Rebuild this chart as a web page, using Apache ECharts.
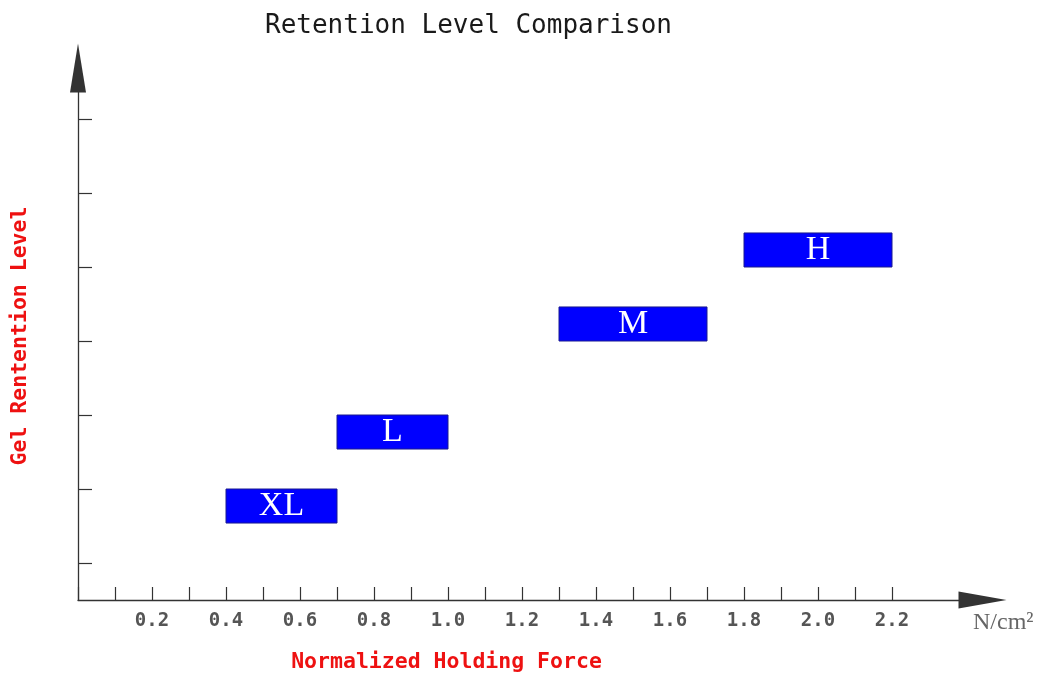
<!DOCTYPE html>
<html>
<head>
<meta charset="utf-8">
<script src="https://cdn.jsdelivr.net/npm/echarts@6/dist/echarts.min.js"></script>
<style>
  html, body { margin: 0; padding: 0; background: #ffffff; }
  #chart { width: 1038px; height: 680px; }
</style>
</head>
<body>
<div id="chart"></div>
<script>
// ---- data ----
const levels = ['XL', 'L', 'M', 'H'];
const forceMin = [0.4, 0.7, 1.3, 1.8];      // N/cm^2, left edge of each band
const forceMax = [0.7, 1.0, 1.7, 2.2];      // N/cm^2, right edge of each band
const levelLow = [1.04, 2.04, 3.5, 4.5];    // retention-level units (bottom of bar)
const levelHigh = [1.5, 2.5, 3.96, 4.96];   // retention-level units (top of bar)
const xTickLabels = ['0.2', '0.4', '0.6', '0.8', '1.0', '1.2', '1.4', '1.6', '1.8', '2.0', '2.2'];
const yTickSlots = ['1', '2', '3', '4', '5', '6', '7'];

const titleText = 'Retention Level Comparison';
const xName = 'Normalized Holding Force';
const yName = 'Gel Rentention Level';
const unitText = 'N/cm\u00B2';

const chart = echarts.init(document.getElementById('chart'));

const barData = levels.map((name, i) => [forceMin[i], forceMax[i], levelLow[i], levelHigh[i]]);

const axisColor = '#333';
const mono = '"DejaVu Sans Mono", "Liberation Mono", monospace';

chart.setOption({
  backgroundColor: '#ffffff',
  animation: false,
  title: [
    {
      text: titleText,
      left: 260, top: 8,
      textStyle: { fontFamily: mono, fontSize: 26, fontWeight: 'normal', color: '#1a1a1a' }
    },
    {
      text: unitText,
      left: 968, top: 606,
      textStyle: { fontFamily: '"Liberation Serif", serif', fontSize: 24, fontWeight: 'normal', color: '#666' }
    }
  ],
  grid: [
    { left: 78, right: 72, top: 82, bottom: 80, containLabel: false, outerBoundsMode: 'none' },
    { left: 78, right: 146, top: 82, bottom: 80, containLabel: false, outerBoundsMode: 'none' }
  ],
  xAxis: [
    {
      gridIndex: 0, type: 'value', min: 0, max: 2.4,
      axisLine: { show: true, symbol: ['none', 'triangle'], symbolSize: [17, 48], symbolOffset: [0, 16.5],
                  lineStyle: { color: axisColor, width: 1.3 } },
      axisTick: { show: false }, axisLabel: { show: false }, splitLine: { show: false }
    },
    {
      gridIndex: 1, type: 'value', min: 0, max: 2.2, interval: 0.1,
      axisLine: { show: false },
      axisTick: { show: true, inside: true, length: 13, lineStyle: { color: '#333', width: 1.2 } },
      axisLabel: {
        show: true, margin: 12, color: '#555', fontFamily: mono, fontSize: 19, fontWeight: 'bold',
        formatter: v => { const s = Number(v).toFixed(1); return xTickLabels.includes(s) ? s : ''; }
      },
      splitLine: { show: false },
      name: xName, nameLocation: 'middle', nameGap: 51,
      nameTextStyle: { color: '#ee1111', fontFamily: mono, fontSize: 21.5, fontWeight: 'bold', padding: [0, 77, 0, 0] }
    }
  ],
  yAxis: [
    {
      gridIndex: 0, type: 'value', min: 0, max: 7,
      axisLine: { show: true, symbol: ['none', 'triangle'], symbolSize: [16, 49], symbolOffset: [0, 14],
                  lineStyle: { color: axisColor, width: 1.3 } },
      axisTick: { show: false }, axisLabel: { show: false }, splitLine: { show: false }
    },
    {
      gridIndex: 1, type: 'category', data: yTickSlots, boundaryGap: true,
      axisLine: { show: false },
      axisTick: { show: true, inside: true, alignWithLabel: true, length: 14, lineStyle: { color: '#333', width: 1.2 } },
      axisLabel: { show: false },
      splitLine: { show: false },
      name: yName, nameLocation: 'middle', nameGap: 47, nameRotate: 90,
      nameTextStyle: { color: '#ee1111', fontFamily: mono, fontSize: 21.5, fontWeight: 'bold', padding: [0, 0, 0, 10] }
    }
  ],
  series: [
    {
      type: 'custom',
      xAxisIndex: 0, yAxisIndex: 0,
      data: barData,
      encode: { x: [0, 1], y: [2, 3] },
      renderItem: function (params, api) {
        const p1 = api.coord([api.value(0), api.value(3)]);
        const p2 = api.coord([api.value(1), api.value(2)]);
        return {
          type: 'rect',
          shape: { x: p1[0], y: p1[1], width: p2[0] - p1[0], height: p2[1] - p1[1] },
          style: { fill: '#0000ff', stroke: '#1a1a90', lineWidth: 1 },
          textContent: {
            style: { text: levels[params.dataIndex], fill: '#ffffff',
                     font: '34px "Liberation Serif", serif' }
          },
          textConfig: { position: 'inside' }
        };
      }
    }
  ]
});
</script>
</body>
</html>
